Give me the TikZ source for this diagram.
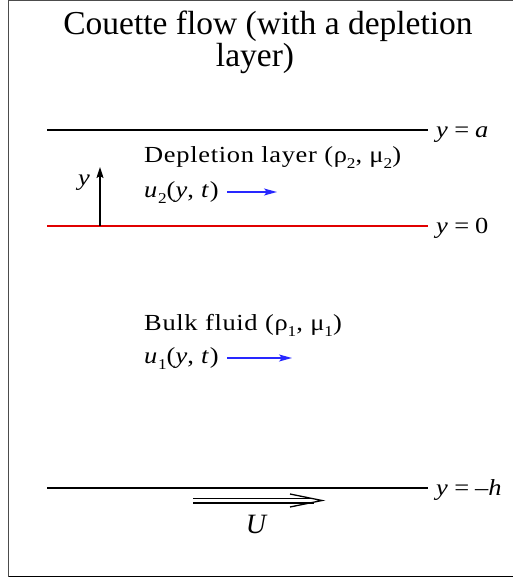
\documentclass[tikz,border=0pt]{standalone}
\usepackage{fontspec}
\setmainfont{Liberation Serif}
\newfontfamily\lblfont[FakeStretch=1.15,LetterSpace=3]{Liberation Serif}
\usetikzlibrary{arrows.meta}
\definecolor{redline}{RGB}{225,0,0}
\definecolor{bluearr}{RGB}{40,40,255}
\newcommand{\lsub}[1]{\raisebox{-0.28em}{\fontsize{15}{15}\selectfont #1}}
\tikzset{
  plate/.style={line width=2pt},
  lbl/.style={inner sep=0pt, font=\lblfont\fontsize{23}{26}\selectfont},
  ttl/.style={inner sep=0pt, font=\fontsize{33.5}{38}\selectfont},
  flow/.style={draw=bluearr, line width=1.6pt, -{Stealth[length=13pt,width=7pt,inset=3pt]}},
}
\begin{document}
\begin{tikzpicture}[x=1pt,y=-1pt]
\useasboundingbox (0,0) rectangle (513,578);
% frame
\draw[black!70, line width=1.3pt] (8.5,576.5) -- (8.5,0.7) -- (512.5,0.7);
\draw[black, line width=1.5pt] (8.5,576.5) -- (512.5,576.5);
% title
\node[ttl, anchor=base] (t1) at (268,34.5) {Couette flow (with a depletion};
\node[ttl, anchor=base] (t2) at (255,66.5) {layer)};
% plates / interface
\coordinate (aL) at (47,130); \coordinate (aR) at (428,130);
\coordinate (zL) at (47,226); \coordinate (zR) at (428,226);
\coordinate (hL) at (47,488); \coordinate (hR) at (428,488);
\draw[plate] (aL) -- (aR);
\draw[plate, redline] (zL) -- (zR);
\draw[plate] (hL) -- (hR);
\node[lbl, anchor=base west] (la) at (436,137) {\textit{y}\hspace{0.25em}=\hspace{0.25em}\textit{a}};
\node[lbl, anchor=base west] (lz) at (436,233.5) {\textit{y}\hspace{0.25em}=\hspace{0.25em}0};
\node[lbl, anchor=base west] (lh) at (436,495) {\textit{y}\hspace{0.25em}=\hspace{0.25em}–\textit{h}};
% y axis arrow
\coordinate (y0) at (100,226); \coordinate (y1) at (100,167);
\draw[line width=1.5pt, -{Stealth[length=11pt,width=7pt,inset=2pt]}] (y0) -- (y1);
\node[lbl, anchor=base west] (ly) at (78,185) {\textit{y}};
% depletion layer
\node[lbl, anchor=base west] (dep) at (144,162) {Depletion layer (ρ\lsub{2}, μ\lsub{2})};
\node[lbl, anchor=base west] (u2) at (144,197) {\textit{u}\lsub{2}(\textit{y}, \textit{t})};
\coordinate (u2a) at (227,192); \coordinate (u2b) at (277,192);
\draw[flow] (u2a) -- (u2b);
% bulk
\node[lbl, anchor=base west] (bulk) at (144,330) {Bulk fluid (ρ\lsub{1}, μ\lsub{1})};
\node[lbl, anchor=base west] (u1) at (144,363) {\textit{u}\lsub{1}(\textit{y}, \textit{t})};
\coordinate (u1a) at (227,358); \coordinate (u1b) at (292,358);
\draw[flow] (u1a) -- (u1b);
% U arrow
\coordinate (Us) at (193,500.5); \coordinate (Ue) at (314,500.5);
\coordinate (Ht) at (290,494); \coordinate (Htip) at (322,500.5); \coordinate (Hb) at (290,507);
\draw[line width=1.2pt, double distance=3.6pt] (Us) -- (Ue);
\draw[line width=1.3pt] (Ht) -- (Htip) -- (Hb);
\node[inner sep=0pt, anchor=base, font=\fontsize{28}{30}\selectfont\itshape] (U) at (256,533) {U};
\end{tikzpicture}
\end{document}
